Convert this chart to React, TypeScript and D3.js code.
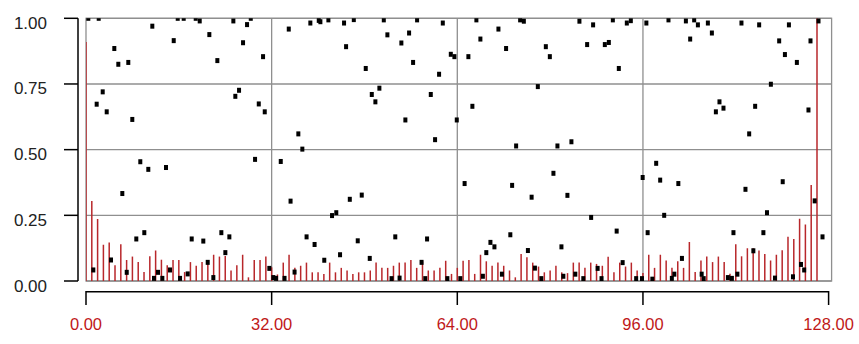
import React from "react";
import * as d3 from "d3";

// Red bars: one value per integer frequency 0..126
const barValues: number[] = [
  0.91, 0.305, 0.236, 0.138, 0.147, 0.06, 0.14, 0.08, 0.093, 0.072,
  0.034, 0.094, 0.116, 0.081, 0.06, 0.08, 0.08, 0.034, 0.072, 0.058,
  0.072, 0.08, 0.1, 0.093, 0.095, 0.04, 0.06, 0.1, 0.014, 0.08,
  0.08, 0.093, 0.052, 0.025, 0.07, 0.1, 0.05, 0.058, 0.07, 0.033,
  0.033, 0.027, 0.07, 0.033, 0.05, 0.04, 0.027, 0.033, 0.033, 0.04,
  0.07, 0.05, 0.05, 0.058, 0.07, 0.07, 0.08, 0.05, 0.075, 0.04,
  0.04, 0.05, 0.077, 0.027, 0.05, 0.077, 0.08, 0.027, 0.1, 0.075,
  0.058, 0.07, 0.058, 0.04, 0.014, 0.103, 0.09, 0.07, 0.055, 0.033,
  0.04, 0.058, 0.033, 0.03, 0.07, 0.07, 0.05, 0.07, 0.065, 0.058,
  0.092, 0.033, 0.07, 0.055, 0.07, 0.04, 0.03, 0.1, 0.05, 0.1,
  0.078, 0.05, 0.075, 0.05, 0.148, 0.034, 0.078, 0.093, 0.072, 0.093,
  0.072, 0.028, 0.14, 0.094, 0.125, 0.125, 0.116, 0.103, 0.078, 0.1,
  0.117, 0.168, 0.16, 0.237, 0.215, 0.365, 1.0,
];

// Black points: x position and value
const pointX: number[] = [
  0.4, 1.26, 1.84, 2.19, 2.88, 3.57, 4.31, 4.88, 5.57, 6.26, 7.02, 7.29, 7.98, 8.67, 9.36,
  10.05, 10.74, 11.43, 11.72, 12.41, 13.16, 13.79, 14.48, 15.12, 15.81, 16.21, 16.84, 17.53,
  18.22, 18.91, 19.6, 20.22, 20.98, 21.26, 21.95, 22.64, 23.33, 24.02, 24.71, 25.4, 25.74,
  26.38, 27.07, 27.76, 28.4, 29.14, 29.78, 30.52, 30.81, 31.6, 32.29,
  32.76, 33.57, 34.22, 34.95, 35.26, 35.95, 36.6, 37.29, 38.02, 38.67, 39.4, 40.12, 40.4,
  41.07, 41.78, 42.41, 43.14, 43.79, 44.48, 44.83, 45.47, 46.16, 46.84, 47.53, 48.22, 48.91,
  49.26, 49.88, 50.57, 51.33, 51.95, 52.67, 53.31, 54.05, 54.36, 55.05, 55.69, 56.38, 57.07,
  57.84, 58.48, 58.79, 59.43, 60.17, 60.86, 61.5, 62.29, 62.88, 63.5, 63.91, 64.52, 65.26,
  65.91, 66.6, 67.29, 67.98, 68.41, 69.0, 69.71, 70.4, 71.09, 71.69, 72.41, 73.14, 73.45,
  74.14, 74.83, 75.47, 76.17, 76.81, 77.38, 77.88, 78.48, 79.26, 79.95, 80.57, 81.26, 81.95,
  82.28, 82.98, 83.67, 84.34, 85.05, 85.72, 86.38, 87.07, 87.41, 88.19, 88.86, 89.43, 90.12,
  90.81, 91.47, 91.84, 92.5, 93.22, 93.91, 94.83, 95.83, 95.95,
  96.59, 96.81, 97.62, 98.28, 98.97, 99.66, 100.4, 100.98, 101.41, 102.1, 102.72, 103.4,
  104.14, 104.83, 105.47, 106.12, 106.47, 107.19, 107.88, 108.57, 109.19, 109.88, 110.64,
  111.33, 111.6, 112.28, 112.98, 113.67, 114.31, 115.03, 115.34, 116.03, 116.76, 117.38,
  118.05, 118.76, 119.48, 120.09, 120.47, 121.16, 121.86, 122.53, 123.24, 123.79, 124.53,
  124.88, 125.6, 126.26, 126.95,
];
const pointY: number[] = [
  1.0, 0.042, 0.673, 1.0, 0.72, 0.644, 0.08, 0.885, 0.825, 0.333, 0.033, 0.832, 0.615, 0.16, 0.454,
  0.184, 0.425, 0.97, 0.01, 0.033, 0.01, 0.432, 0.042, 0.915, 1.0, 0.01, 1.0, 0.027,
  0.16, 1.0, 0.99, 0.152, 0.071, 0.938, 0.013, 0.839, 0.184, 0.108, 0.168, 0.99, 0.703,
  0.726, 0.907, 0.976, 1.0, 0.463, 0.674, 0.854, 0.644, 0.048, 0.013,
  0.01, 0.455, 0.01, 0.959, 0.304, 0.034, 0.56, 0.502, 0.168, 0.982, 0.139, 0.992, 0.987,
  0.079, 0.994, 0.249, 0.26, 0.1, 0.982, 0.892, 0.311, 0.995, 0.153, 0.327, 0.809, 0.086,
  0.71, 0.682, 0.734, 0.994, 0.937, 0.009, 0.168, 0.011, 0.906, 0.613, 0.944, 0.832, 0.994,
  0.071, 0.009, 0.16, 0.71, 0.538, 0.787, 0.982, 0.009, 0.863, 0.854, 0.613, 0.009, 0.371,
  0.854, 0.665, 0.994, 0.921, 0.018, 0.108, 0.147, 0.13, 0.959, 0.026, 0.885, 0.176, 0.364,
  0.514, 0.994, 0.989, 0.116, 0.319, 0.049, 0.74, 0.009, 0.892, 0.854, 0.41, 0.514, 0.13,
  0.018, 0.326, 0.53, 0.026, 0.989, 0.009, 0.9, 0.242, 0.975, 0.048, 0.009, 0.9, 0.908,
  0.994, 0.19, 0.809, 0.07, 0.982, 0.991, 0.009, 0.009, 0.394,
  0.982, 0.184, 0.007, 0.448, 0.384, 0.25, 0.994, 0.01, 0.026, 0.371, 0.086, 0.99,
  0.921, 0.994, 0.975, 0.026, 0.009, 0.982, 0.944, 0.644, 0.682, 0.658, 0.013,
  0.01, 0.184, 0.026, 0.982, 0.349, 0.56, 0.115, 0.665, 0.975, 0.184, 0.26,
  0.749, 0.011, 0.914, 0.378, 0.862, 0.975, 0.016, 0.832, 0.063, 0.042, 0.651,
  0.914, 0.305, 0.99, 0.168,
];

const yTicks: number[] = [0, 0.25, 0.5, 0.75, 1.0];
const xTicks: number[] = [0, 32, 64, 96, 128];

export default function App() {
  const W = 859;
  const H = 344;
  const x = d3.scaleLinear().domain([0, 128]).range([86, 828.6]);
  const y = d3.scaleLinear().domain([0, 1]).range([281, 18.3]);
  const x0 = x(0);
  const x1 = x(128) + 3;
  const yTop = y(1);
  const yBot = y(0);
  const grid = "#8f8f8f";
  const fmt = d3.format(".2f");
  const font = "'Liberation Sans', Arial, sans-serif";

  return (
    <svg
      width={W}
      height={H}
      style={{ position: "absolute", left: 0, top: 0, background: "#fff" }}
    >
      <defs>
        <clipPath id="plotClip">
          <rect x={x0} y={yTop} width={x1 - x0} height={yBot - yTop} />
        </clipPath>
      </defs>
      {/* gridlines */}
      {yTicks.map((t) => (
        <line key={"gy" + t} x1={x0} x2={x1} y1={y(t)} y2={y(t)} stroke={grid} strokeWidth={1.3} />
      ))}
      {xTicks.slice(1, 4).map((t) => (
        <line key={"gx" + t} x1={x(t)} x2={x(t)} y1={yTop} y2={yBot} stroke={grid} strokeWidth={1.3} />
      ))}
      <rect x={x0} y={yTop} width={x1 - x0} height={yBot - yTop} fill="none" stroke={grid} strokeWidth={1.3} />

      {/* bars */}
      <g clipPath="url(#plotClip)">
        {barValues.map((v, i) => (
          <line
            key={"b" + i}
            x1={x(i)}
            x2={x(i)}
            y1={y(0)}
            y2={y(v)}
            stroke="#b8272b"
            strokeWidth={1.5}
          />
        ))}
        {pointX.map((px, i) => (
          <rect
            key={"p" + i}
            x={x(px) - 2}
            y={y(pointY[i]) - 2.5}
            width={4}
            height={5}
            fill="#000"
          />
        ))}
      </g>

      {/* y axis */}
      <line x1={78} x2={78} y1={yTop} y2={yBot} stroke="#000" strokeWidth={1.5} />
      {yTicks.map((t) => (
        <g key={"yt" + t}>
          <line x1={64} x2={78} y1={y(t)} y2={y(t)} stroke="#000" strokeWidth={1.5} />
          <text
            x={47}
            y={y(t) + 10.5}
            textAnchor="end"
            fontFamily={font}
            fontSize={17}
            fill="#222"
          >
            {fmt(t)}
          </text>
        </g>
      ))}

      {/* x axis */}
      <line x1={x(0)} x2={x(128)} y1={291.7} y2={291.7} stroke="#000" strokeWidth={1.5} />
      {xTicks.map((t) => (
        <g key={"xt" + t}>
          <line x1={x(t)} x2={x(t)} y1={291} y2={305} stroke="#000" strokeWidth={1.5} />
          <text
            x={x(t)}
            y={330}
            textAnchor="middle"
            fontFamily={font}
            fontSize={16.5}
            fill="#c01818"
          >
            {fmt(t)}
          </text>
        </g>
      ))}
    </svg>
  );
}
